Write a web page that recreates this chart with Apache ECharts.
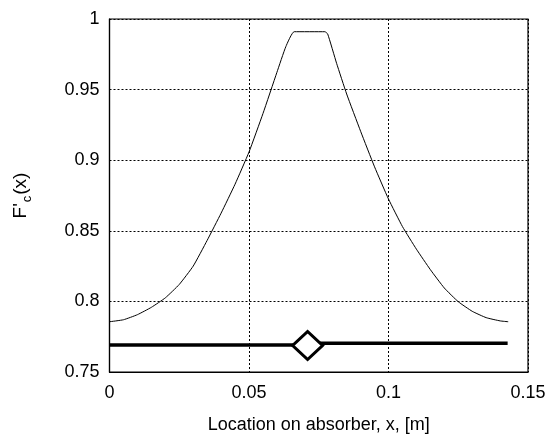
<!DOCTYPE html>
<html>
<head>
<meta charset="utf-8">
<script src="https://cdn.jsdelivr.net/npm/echarts@6/dist/echarts.min.js"></script>
<style>html,body{margin:0;padding:0;background:#fff}#c{width:547px;height:436px}</style>
</head>
<body>
<div id="c"></div>
<script>
// Curve F'c(x)
var curveX = [0, 0.005, 0.01, 0.015, 0.02, 0.025, 0.03, 0.035, 0.04, 0.045, 0.05, 0.055, 0.06, 0.0632, 0.0662, 0.0772, 0.0782, 0.0814, 0.085, 0.09, 0.095, 0.1, 0.105, 0.11, 0.115, 0.12, 0.125, 0.13, 0.135, 0.14, 0.1429];
var curveY = [0.7856, 0.7870, 0.7906, 0.7958, 0.8025, 0.8120, 0.8250, 0.8432, 0.8625, 0.8830, 0.9058, 0.9330, 0.9622, 0.9804, 0.9910, 0.9910, 0.9894, 0.9686, 0.9469, 0.9205, 0.8953, 0.8725, 0.8530, 0.8370, 0.8225, 0.8095, 0.7998, 0.7930, 0.7885, 0.7862, 0.7856];
// Mean value line (left and right parts)
var meanLeftX = [0, 0.0710];
var meanLeftY = [0.7691, 0.7691];
var meanRightX = [0.0710, 0.1427];
var meanRightY = [0.7703, 0.7703];
// Marker
var markerX = [0.0710];
var markerY = [0.7688];
// Ticks
var xTicks = [0, 0.05, 0.1, 0.15];
var yTicks = [0.75, 0.8, 0.85, 0.9, 0.95, 1];

function zip(a, b) { return a.map(function (v, i) { return [v, b[i]]; }); }

var chart = echarts.init(document.getElementById('c'));
var font = 'Liberation Sans, Arial, sans-serif';
chart.setOption({
  animation: false,
  backgroundColor: '#fff',
  grid: { left: 109.5, right: 19, top: 19, bottom: 64, containLabel: false, outerBoundsMode: 'none', show: true, borderColor: '#000', borderWidth: 1.2, backgroundColor: 'transparent' },
  xAxis: {
    type: 'value', min: xTicks[0], max: xTicks[xTicks.length - 1], interval: 0.05,
    name: 'Location on absorber, x, [m]', nameLocation: 'middle', nameGap: 44,
    nameTextStyle: { fontFamily: font, fontSize: 18, color: '#000' },
    axisLine: { show: true, lineStyle: { color: '#000', width: 1.2 } },
    axisTick: { show: false },
    axisLabel: { fontFamily: font, fontSize: 18, color: '#000', margin: 12 },
    splitLine: { show: true, lineStyle: { color: '#000', width: 1, type: [2, 2] } }
  },
  yAxis: {
    type: 'value', min: yTicks[0], max: yTicks[yTicks.length - 1], interval: 0.05,
    name: "F'{sub|c}(x)", nameLocation: 'middle', nameGap: 76,
    nameTextStyle: { fontFamily: font, fontSize: 19, color: '#000', rich: { sub: { fontFamily: font, fontSize: 13, color: '#000', verticalAlign: 'bottom', padding: [12, 1, 0, 1] } } },
    axisLine: { show: true, lineStyle: { color: '#000', width: 1.2 } },
    axisTick: { show: false },
    axisLabel: { fontFamily: font, fontSize: 18, color: '#000', margin: 10 },
    splitLine: { show: true, lineStyle: { color: '#000', width: 1, type: [2, 2] } }
  },
  series: [
    { type: 'line', data: zip(curveX, curveY), showSymbol: false, smooth: 0.15, lineStyle: { color: '#000', width: 1 }, z: 3 },
    { type: 'line', data: zip(meanLeftX, meanLeftY), showSymbol: false, lineStyle: { color: '#000', width: 3.5 }, z: 4 },
    { type: 'line', data: zip(meanRightX, meanRightY), showSymbol: false, lineStyle: { color: '#000', width: 3.5 }, z: 4 },
    { type: 'scatter', data: zip(markerX, markerY), symbol: 'diamond', symbolSize: [30, 28], itemStyle: { color: '#fff', borderColor: '#000', borderWidth: 3, opacity: 1 }, z: 5 }
  ]
});
</script>
</body>
</html>
